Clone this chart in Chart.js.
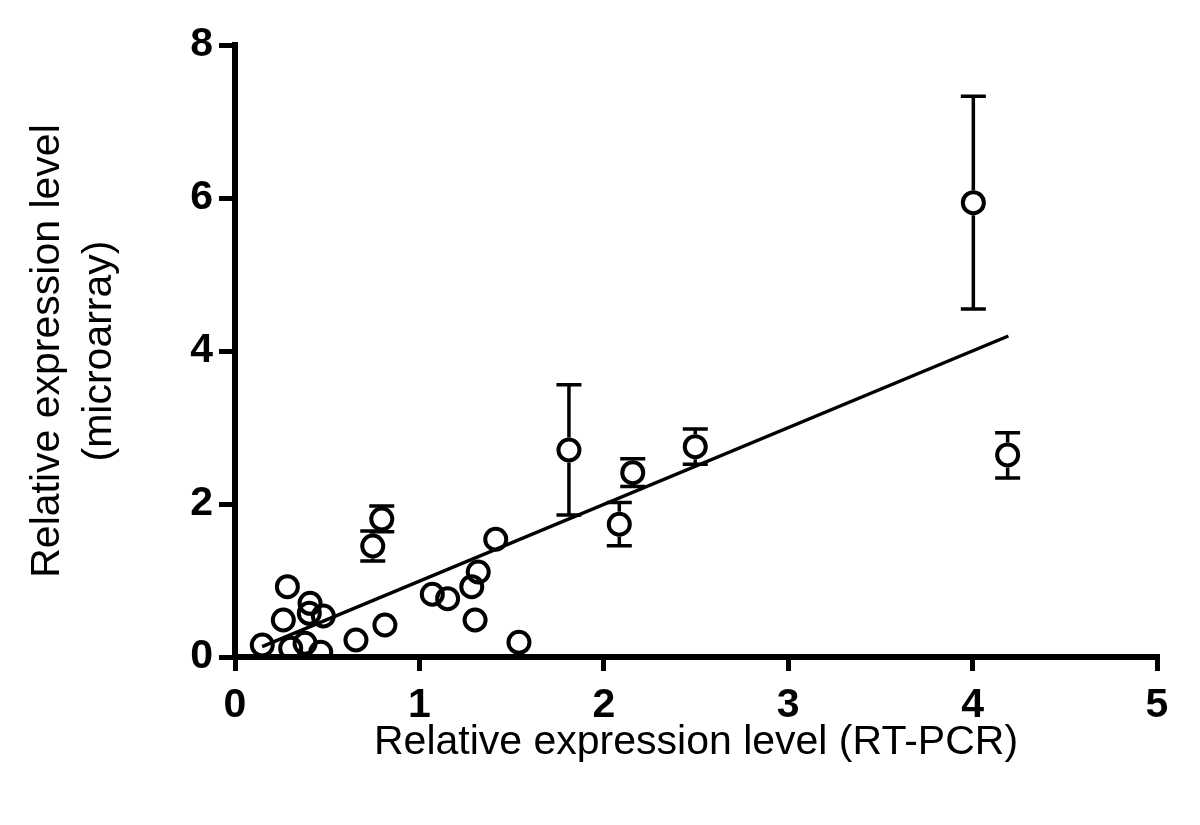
<!DOCTYPE html>
<html lang="en">
  <head>
    <meta charset="UTF-8" />
    <title>RT-PCR vs microarray</title>
    <script src="https://cdn.jsdelivr.net/npm/chart.js"></script>
    <style>
      body {
        margin: 0;
        background-color: #fff;
      }
      #chartContainer {
        position: relative;
        width: 1200px;
        height: 825px;
      }
    </style>
  </head>
  <body>
    <div id="chartContainer">
      <canvas id="myChart"></canvas>
    </div>

    <script>
      // relative expression, RT-PCR (x) vs microarray (y)
      const rtpcr = [
        0.148, 0.262, 0.284, 0.302, 0.38, 0.407, 0.403, 0.479, 0.465, 0.656,
        0.813, 0.747, 0.796, 1.07, 1.153, 1.284, 1.319, 1.302, 1.414, 1.54,
        1.811, 2.084, 2.157, 2.496, 4.004, 4.19,
      ];
      const microarray = [
        0.157, 0.484, 0.919, 0.114, 0.179, 0.702, 0.571, 0.536, 0.061, 0.222,
        0.418, 1.451, 1.804, 0.82, 0.762, 0.919, 1.111, 0.484, 1.539, 0.192,
        2.706, 1.735, 2.409, 2.749, 5.939, 2.641,
      ];
      // error bar ends (null = no bar)
      const errHigh = [
        null, null, null, null, null, null, null, null, null, null,
        null, 1.647, 1.974, null, null, null, null, null, null, null,
        3.56, 2.02, 2.59, 2.98, 7.33, 2.93,
      ];
      const errLow = [
        null, null, null, null, null, null, null, null, null, null,
        null, 1.255, 1.638, null, null, null, null, null, null, null,
        1.856, 1.455, 2.23, 2.52, 4.55, 2.34,
      ];
      // fitted line end points as drawn
      const fitX = [0.147, 4.194];
      const fitY = [0.135, 4.196];

      const xTicks = [0, 1, 2, 3, 4, 5];
      const yTicks = [0, 2, 4, 6, 8];

      const fontFamily = '"Liberation Sans", Arial, sans-serif';
      const markerRadius = 10.5;

      const errorBars = {
        id: "errorBars",
        afterDatasetsDraw(chart) {
          const { ctx, scales } = chart;
          ctx.save();
          ctx.strokeStyle = "#000";
          ctx.lineWidth = 3.5;
          rtpcr.forEach((xv, i) => {
            if (errHigh[i] == null) return;
            const px = scales.x.getPixelForValue(xv);
            const py = scales.y.getPixelForValue(microarray[i]);
            const top = scales.y.getPixelForValue(errHigh[i]);
            const bot = scales.y.getPixelForValue(errLow[i]);
            const r = markerRadius + 2;
            ctx.beginPath();
            if (py - r > top) {
              ctx.moveTo(px, py - r);
              ctx.lineTo(px, top);
            }
            if (py + r < bot) {
              ctx.moveTo(px, py + r);
              ctx.lineTo(px, bot);
            }
            ctx.moveTo(px - 12.5, top);
            ctx.lineTo(px + 12.5, top);
            ctx.moveTo(px - 12.5, bot);
            ctx.lineTo(px + 12.5, bot);
            ctx.stroke();
          });
          ctx.restore();
        },
      };

      const ctx = document.getElementById("myChart").getContext("2d");
      const myChart = new Chart(ctx, {
        type: "scatter",
        data: {
          datasets: [
            {
              label: "Genes",
              data: rtpcr.map((x, i) => ({ x: x, y: microarray[i] })),
              pointStyle: "circle",
              pointRadius: markerRadius,
              pointBorderWidth: 4,
              pointBorderColor: "#000",
              pointBackgroundColor: "rgba(0,0,0,0)",
              showLine: false,
            },
            {
              label: "Fit",
              type: "line",
              data: fitX.map((x, i) => ({ x: x, y: fitY[i] })),
              borderColor: "#000",
              borderWidth: 3.5,
              pointRadius: 0,
              fill: false,
            },
          ],
        },
        options: {
          responsive: true,
          maintainAspectRatio: false,
          animation: false,
          layout: {
            padding: { left: 0, right: 43, top: 45, bottom: 0 },
          },
          plugins: {
            legend: { display: false },
            tooltip: { enabled: false },
          },
          scales: {
            x: {
              type: "linear",
              min: 0,
              max: 5,
              afterFit: (scale) => {
                scale.height = 168;
              },
              afterBuildTicks: (scale) => {
                scale.ticks = xTicks.map((v) => ({ value: v }));
              },
              border: { display: true, color: "#000", width: 6 },
              grid: {
                display: true,
                drawOnChartArea: false,
                drawTicks: true,
                tickLength: 14,
                lineWidth: 5,
                tickWidth: 5,
                tickColor: "#000",
              },
              ticks: {
                color: "#000",
                padding: 10,
                font: { family: fontFamily, size: 41, weight: "bold" },
              },
              title: {
                display: true,
                text: "Relative expression level (RT-PCR)",
                color: "#000",
                padding: { top: 0, bottom: 58 },
                font: { family: fontFamily, size: 41 },
              },
            },
            y: {
              type: "linear",
              min: 0,
              max: 8,
              afterFit: (scale) => {
                scale.width = 235;
              },
              afterBuildTicks: (scale) => {
                scale.ticks = yTicks.map((v) => ({ value: v }));
              },
              border: { display: true, color: "#000", width: 6 },
              grid: {
                display: true,
                drawOnChartArea: false,
                drawTicks: true,
                tickLength: 16,
                lineWidth: 5,
                tickWidth: 5,
                tickColor: "#000",
              },
              ticks: {
                color: "#000",
                padding: 6,
                font: { family: fontFamily, size: 41, weight: "bold" },
              },
              title: {
                display: true,
                text: ["Relative expression level", "(microarray)"],
                color: "#000",
                padding: { top: 22, bottom: 0 },
                font: { family: fontFamily, size: 41, lineHeight: 1.27 },
              },
            },
          },
        },
        plugins: [errorBars],
      });
    </script>
  </body>
</html>
